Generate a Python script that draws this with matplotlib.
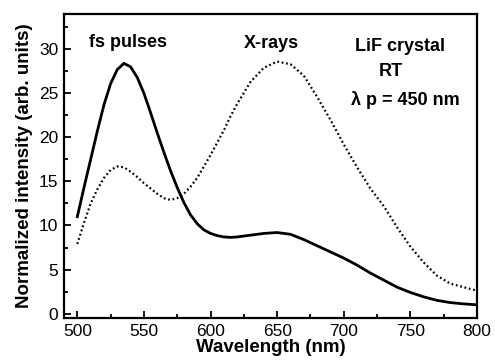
import numpy as np
import matplotlib
matplotlib.use("Agg")
import matplotlib.pyplot as plt
from matplotlib.ticker import MultipleLocator

plt.rcParams['font.family'] = ['Liberation Sans', 'DejaVu Sans']

# wavelength samples (nm)
wavelength = [500, 505, 510, 515, 520, 525, 530, 535, 540, 545, 550, 555, 560, 565, 570,
              575, 580, 585, 590, 595, 600, 605, 610, 615, 620, 630, 640, 650, 660, 670,
              680, 690, 700, 710, 720, 730, 740, 750, 760, 770, 780, 790, 800]

# fs pulses (solid line)
fs_pulses = [11.0, 14.3, 17.5, 20.7, 23.7, 26.1, 27.7, 28.4, 28.0, 26.8, 25.0, 22.8, 20.5,
             18.3, 16.2, 14.3, 12.6, 11.2, 10.2, 9.5, 9.1, 8.85, 8.7, 8.65, 8.7, 8.9, 9.1,
             9.2, 9.0, 8.4, 7.7, 7.0, 6.3, 5.5, 4.6, 3.8, 3.0, 2.4, 1.9, 1.5, 1.25, 1.1, 1.0]

# X-rays (dotted line)
x_rays = [7.9, 10.3, 12.5, 14.1, 15.4, 16.3, 16.7, 16.6, 16.1, 15.5, 14.8, 14.2, 13.6,
          13.1, 12.9, 13.1, 13.6, 14.4, 15.4, 16.7, 18.0, 19.4, 20.8, 22.4, 23.8, 26.3,
          27.9, 28.6, 28.3, 27.0, 24.6, 22.0, 19.2, 16.6, 14.2, 12.2, 9.8, 7.6, 5.8, 4.3,
          3.4, 3.0, 2.6]

fig = plt.figure(figsize=(4.95, 3.61), dpi=100)
ax = fig.add_axes([0.1293, 0.1191, 0.8343, 0.8421])

ax.plot(wavelength, fs_pulses, color='black', lw=2.0)
ax.plot(wavelength, x_rays, color='black', lw=1.6, linestyle=(0, (0.8, 1.2)))

ax.set_xlim(490, 800)
ax.set_ylim(-0.5, 34)
ax.xaxis.set_major_locator(MultipleLocator(50))
ax.xaxis.set_minor_locator(MultipleLocator(25))
ax.yaxis.set_major_locator(MultipleLocator(5))
ax.yaxis.set_minor_locator(MultipleLocator(2.5))
ax.tick_params(which='both', direction='in', top=False, right=False, labelsize=12.5,
               width=1.3, pad=4)
ax.tick_params(which='major', length=5)
ax.tick_params(which='minor', length=3)
for s in ax.spines.values():
    s.set_linewidth(1.6)

ax.set_xlabel('Wavelength (nm)', fontsize=13.5, fontweight='bold', labelpad=0)
ax.set_ylabel('Normalized intensity (arb. units)', fontsize=13.5, fontweight='bold', labelpad=4)

# annotations
ax.text(538, 30.8, 'fs pulses', fontsize=13, fontweight='bold', ha='center', va='center')
ax.text(646, 30.6, 'X-rays', fontsize=13, fontweight='bold', ha='center', va='center')
ax.text(742, 30.3, 'LiF crystal', fontsize=13, fontweight='bold', ha='center', va='center')
ax.text(735, 27.5, 'RT', fontsize=13, fontweight='bold', ha='center', va='center')
ax.text(746, 24.2, 'λ p = 450 nm', fontsize=13, fontweight='bold', ha='center', va='center')

fig.savefig('out.png', dpi=100)
